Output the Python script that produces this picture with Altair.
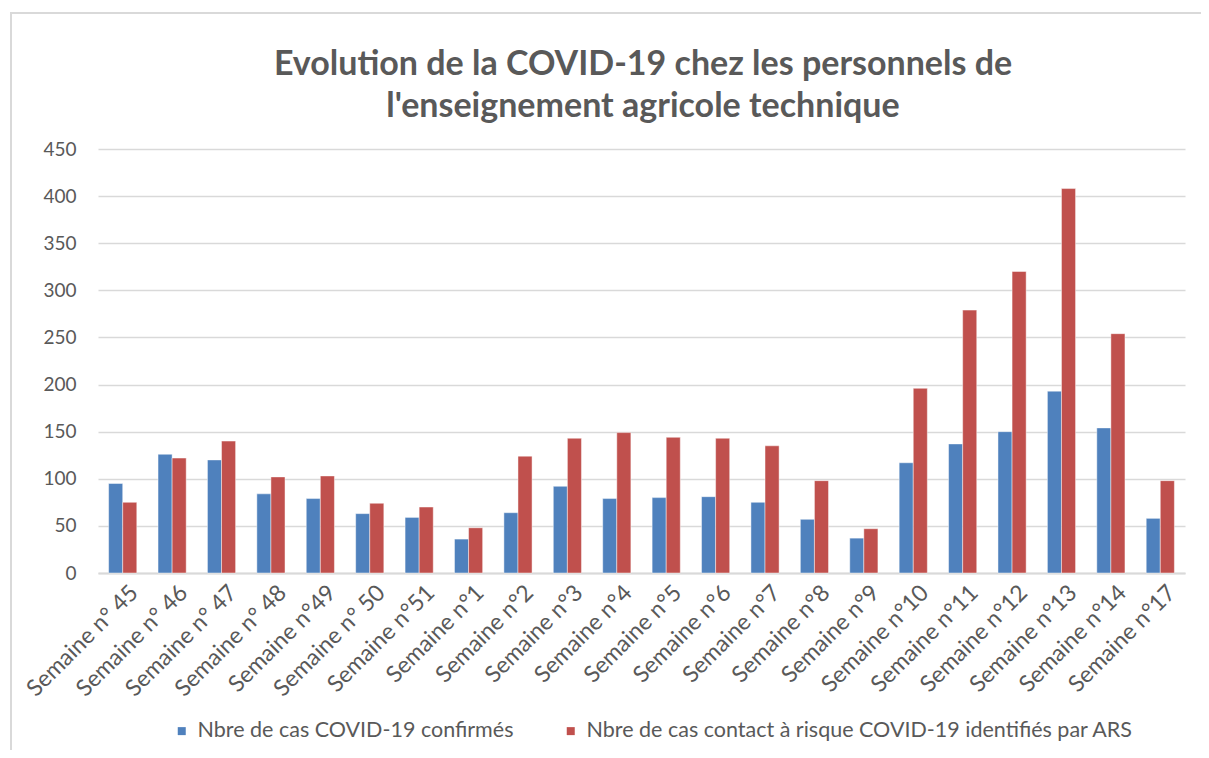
import altair as alt
import pandas as pd

weeks = ["Semaine n° 45", "Semaine n° 46", "Semaine n° 47", "Semaine n° 48", "Semaine n°49",
         "Semaine n° 50", "Semaine n°51", "Semaine n°1", "Semaine n°2", "Semaine n°3",
         "Semaine n°4", "Semaine n°5", "Semaine n°6", "Semaine n°7", "Semaine n°8",
         "Semaine n°9", "Semaine n°10", "Semaine n°11", "Semaine n°12", "Semaine n°13",
         "Semaine n°14", "Semaine n°17"]
confirmes = [95, 126, 120, 84, 79, 63, 59, 36, 64, 92, 79, 80, 81, 75, 57, 37, 117, 137, 150, 193, 154, 58]
contacts = [75, 122, 140, 102, 103, 74, 70, 48, 124, 143, 149, 144, 143, 135, 98, 47, 196, 279, 320, 408, 254, 98]
series = ["Nbre de cas COVID-19 confirmés",
          "Nbre de cas contact à risque COVID-19 identifiés par ARS"]
colors = ["#4f81bd", "#c0504d"]
title_lines = ["Evolution de la COVID-19 chez les personnels de",
               "l'enseignement agricole technique"]
y_ticks = list(range(0, 451, 50))

rows = []
for w, a, b in zip(weeks, confirmes, contacts):
    rows.append({"semaine": w, "serie": series[0], "valeur": a})
    rows.append({"semaine": w, "serie": series[1], "valeur": b})
df = pd.DataFrame(rows)

FONT = "Lato"
GREY = "#595959"

bars = alt.Chart(df).mark_bar(stroke="white", strokeOpacity=0.45, strokeWidth=1).encode(
    x=alt.X("semaine:N", sort=weeks, title=None,
            scale=alt.Scale(paddingInner=0.43, paddingOuter=0.215),
            axis=alt.Axis(labelAngle=-45, labelFontSize=23, labelColor=GREY, labelFont=FONT,
                          ticks=False, domainColor="#d9d9d9", domainWidth=2, labelPadding=8,
                          labelOffset=4, labelLimit=300)),
    xOffset=alt.XOffset("serie:N", sort=series),
    y=alt.Y("valeur:Q", title=None,
            scale=alt.Scale(domain=[0, 450], nice=False),
            axis=alt.Axis(values=y_ticks, labelFontSize=19, labelColor=GREY, labelFont=FONT,
                          ticks=False, domain=False, gridColor="#d9d9d9", gridWidth=1.5,
                          labelPadding=22)),
    color=alt.Color("serie:N", sort=series,
                    scale=alt.Scale(domain=series, range=colors),
                    legend=alt.Legend(title=None, orient="none", direction="horizontal",
                                      legendX=73, legendY=571, symbolType="square",
                                      symbolSize=64, labelFontSize=21.5, labelColor=GREY,
                                      labelFont=FONT, columnPadding=46, labelOffset=5,
                                      labelLimit=700, symbolStrokeWidth=0)),
)

one = pd.DataFrame({"k": [0]})
frame = alt.Chart(one).mark_rect(
    fill=None, stroke="#d9d9d9", strokeWidth=2
).encode(x=alt.value(-87), x2=alt.value(1300), y=alt.value(-136), y2=alt.value(800))

t1 = alt.Chart(one).mark_text(font=FONT, fontSize=34, fontWeight="bold", color=GREY,
                              align="center", baseline="alphabetic").encode(
    x=alt.value(545), y=alt.value(-74), text=alt.value(title_lines[0]))
t2 = alt.Chart(one).mark_text(font=FONT, fontSize=34, fontWeight="bold", color=GREY,
                              align="center", baseline="alphabetic").encode(
    x=alt.value(545), y=alt.value(-32), text=alt.value(title_lines[1]))

chart = alt.layer(frame, t1, t2, bars).properties(
    width=1087, height=424,
    autosize=alt.AutoSizeParams(type="none"),
    padding={"left": 90, "top": 141, "right": 16, "bottom": 177},
).configure_view(stroke=None)

chart.save("out.html", embed_options={"renderer": "svg", "actions": False})
